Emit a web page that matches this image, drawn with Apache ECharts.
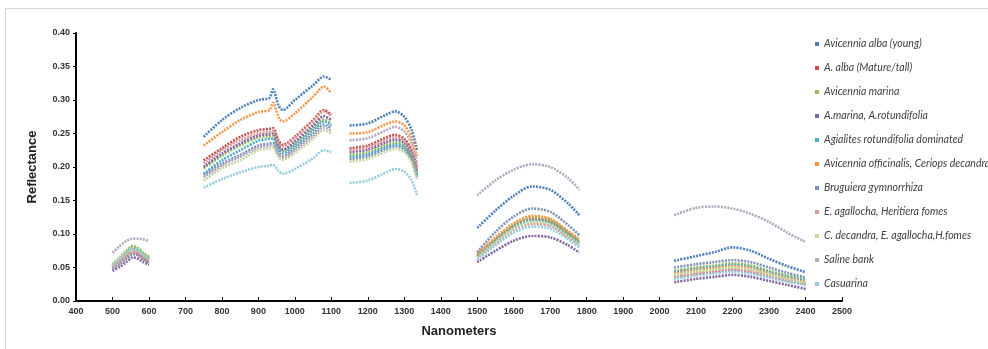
<!DOCTYPE html>
<html>
<head>
<meta charset="utf-8">
<script src="https://cdn.jsdelivr.net/npm/echarts@6/dist/echarts.min.js"></script>
<style>html,body{margin:0;padding:0;background:#fff;}#c{width:988px;height:349px;}</style>
</head>
<body>
<div id="c"></div>
<script>
// wavelengths (nm); null-valued entries at 650, 1125, 1400, 1900 mark gaps between spectral windows
const wavelengths = [500,520,540,555,570,585,600, 650,
  750,800,850,900,930,940,955,967,1000,1050,1080,1100, 1125,
  1150,1200,1250,1275,1300,1320,1335, 1400,
  1500,1550,1600,1650,1700,1750,1780, 1900,
  2040,2100,2150,2200,2250,2300,2350,2400];

const seriesNames = ["Avicennia alba (young)","A. alba (Mature/tall)","Avicennia marina","A.marina, A.rotundifolia","Agialites rotundifolia dominated","Avicennia officinalis, Ceriops decandra","Bruguiera gymnorrhiza","E. agallocha, Heritiera fomes","C. decandra, E. agallocha,H.fomes","Saline bank","Casuarina"];

const avicenniaAlbaYoung = [.053,.063,.074,.08,.077,.07,.064, null,
  .245,.27,.288,.30,.303,.316,.292,.285,.30,.322,.335,.33, null,
  .262,.265,.278,.283,.275,.255,.225, null,
  .109,.135,.157,.171,.166,.145,.128, null,
  .06,.067,.073,.08,.075,.063,.052,.043];
const albaMature = [.049,.057,.066,.072,.07,.063,.058, null,
  .21,.228,.245,.255,.257,.258,.24,.233,.245,.27,.285,.278, null,
  .228,.232,.244,.248,.242,.225,.198, null,
  .067,.091,.112,.123,.119,.1,.088, null,
  .035,.04,.043,.046,.043,.036,.03,.025];
const avicenniaMarina = [.055,.065,.076,.082,.079,.072,.066, null,
  .198,.217,.232,.244,.246,.247,.23,.224,.235,.258,.271,.265, null,
  .218,.222,.233,.237,.232,.216,.19, null,
  .069,.093,.114,.125,.121,.102,.09, null,
  .045,.05,.053,.056,.053,.045,.038,.032];
const marinaRotundifolia = [.045,.051,.059,.065,.063,.058,.054, null,
  .20,.22,.235,.247,.249,.25,.232,.226,.238,.262,.276,.27, null,
  .222,.226,.237,.241,.236,.22,.193, null,
  .058,.075,.09,.097,.095,.083,.072, null,
  .028,.033,.036,.039,.036,.03,.024,.018];
const agialites = [.052,.061,.071,.078,.075,.068,.062, null,
  .19,.21,.225,.239,.242,.243,.227,.221,.232,.255,.268,.262, null,
  .215,.219,.23,.234,.229,.213,.188, null,
  .066,.09,.11,.12,.117,.099,.087, null,
  .043,.048,.051,.054,.051,.043,.036,.03];
const officinalisCeriops = [.051,.06,.07,.076,.073,.066,.061, null,
  .232,.252,.27,.282,.285,.296,.275,.268,.28,.305,.32,.31, null,
  .25,.252,.264,.268,.262,.243,.215, null,
  .07,.095,.116,.127,.123,.104,.092, null,
  .041,.046,.049,.052,.049,.041,.034,.028];
const bruguiera = [.048,.055,.064,.07,.068,.062,.057, null,
  .188,.205,.218,.232,.235,.236,.222,.217,.228,.25,.263,.258, null,
  .212,.216,.227,.231,.226,.21,.185, null,
  .073,.103,.126,.138,.133,.113,.098, null,
  .05,.055,.058,.061,.058,.05,.042,.035];
const agallochaHeritiera = [.05,.058,.068,.074,.071,.064,.059, null,
  .205,.225,.24,.25,.252,.254,.236,.231,.243,.268,.283,.276, null,
  .225,.229,.241,.245,.239,.222,.196, null,
  .064,.086,.106,.115,.112,.095,.083, null,
  .037,.042,.045,.048,.045,.038,.031,.026];
const decandraAgallocha = [.054,.064,.074,.079,.077,.07,.064, null,
  .18,.198,.21,.225,.228,.229,.215,.211,.221,.242,.255,.25, null,
  .208,.212,.223,.227,.222,.207,.182, null,
  .065,.088,.108,.118,.115,.097,.085, null,
  .039,.044,.047,.05,.047,.04,.033,.027];
const salineBank = [.072,.082,.09,.093,.093,.092,.09, null,
  .185,.202,.215,.229,.232,.233,.219,.214,.225,.246,.259,.254, null,
  .24,.243,.255,.26,.253,.235,.205, null,
  .158,.18,.196,.204,.2,.183,.166, null,
  .128,.139,.141,.138,.13,.118,.102,.088];
const casuarina = [.052,.062,.072,.077,.075,.068,.062, null,
  .169,.182,.192,.20,.202,.203,.194,.19,.197,.213,.225,.222, null,
  .176,.18,.192,.197,.193,.18,.158, null,
  .062,.083,.102,.111,.108,.092,.08, null,
  .033,.038,.041,.044,.041,.035,.029,.024];

const allValues = [avicenniaAlbaYoung, albaMature, avicenniaMarina, marinaRotundifolia, agialites, officinalisCeriops, bruguiera, agallochaHeritiera, decandraAgallocha, salineBank, casuarina];
const colors = ['#4F81BD','#C0504D','#9BBB59','#8064A2','#4BACC6','#F79646','#7B93B8','#D99795','#C3D69B','#B3A7BF','#93CDDD'];
const xTicks = {min: 400, max: 2500, interval: 100};
const yTicks = {min: 0, max: 0.4, interval: 0.05};

const chart = echarts.init(document.getElementById('c'));
chart.setOption({
  animation: false,
  backgroundColor: '#fff',
  color: colors,
  graphic: [{type: 'rect', shape: {x: 5.5, y: 8.5, width: 1100, height: 400}, style: {fill: 'none', stroke: '#d4d4d4', lineWidth: 1}, z: -1}],
  grid: {left: 76, right: 146, top: 33, bottom: 48},
  legend: {
    orient: 'vertical', left: 810, top: 33, itemGap: 12, itemWidth: 4, itemHeight: 4, icon: 'rect', itemSpacing: 5,
    textStyle: {fontFamily: 'Lato', fontStyle: 'italic', fontSize: 10.5, color: '#404040', lineHeight: 12}
  },
  xAxis: {
    type: 'value', min: xTicks.min, max: xTicks.max, interval: xTicks.interval,
    name: 'Nanometers', nameLocation: 'middle', nameGap: 24,
    nameTextStyle: {fontFamily: 'Liberation Sans', fontWeight: 'bold', fontSize: 13, color: '#222'},
    axisLine: {lineStyle: {color: '#000', width: 2}},
    axisTick: {inside: true, length: 4, lineStyle: {color: '#000', width: 1}},
    axisLabel: {fontFamily: 'Liberation Sans', fontSize: 9, fontWeight: 'bold', color: '#333', margin: 6, formatter: v => String(v)},
    splitLine: {show: false}
  },
  yAxis: {
    type: 'value', min: yTicks.min, max: yTicks.max, interval: yTicks.interval,
    name: 'Reflectance', nameLocation: 'middle', nameGap: 37,
    nameTextStyle: {fontFamily: 'Liberation Sans', fontWeight: 'bold', fontSize: 13, color: '#222'},
    axisLine: {show: true, lineStyle: {color: '#000', width: 2}},
    axisTick: {show: true, length: 3, lineStyle: {color: '#000', width: 1}},
    axisLabel: {fontFamily: 'Liberation Sans', fontSize: 9, fontWeight: 'bold', color: '#333', margin: 6, formatter: v => v.toFixed(2)},
    splitLine: {show: false}
  },
  series: seriesNames.map((name, i) => ({
    name: name,
    type: 'line',
    smooth: 0.3,
    showSymbol: false,
    connectNulls: false,
    lineStyle: {width: 2.6, type: [2, 1.2], color: colors[i]},
    itemStyle: {color: colors[i]},
    data: wavelengths.map((w, k) => [w, allValues[i][k]])
  }))
});
</script>
</body>
</html>
